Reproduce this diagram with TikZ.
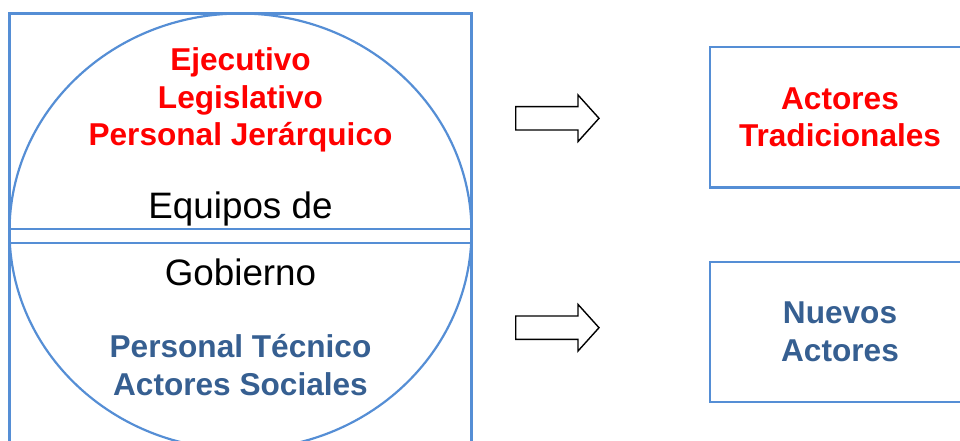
\documentclass[tikz,border=0pt]{standalone}
\usepackage{fontspec}
\setmainfont{Liberation Sans}
\definecolor{lineblue}{RGB}{85,142,213}
\definecolor{textblue}{RGB}{54,95,145}
\begin{document}
\begin{tikzpicture}[x=1pt,y=-1pt,
  frame/.style={draw=lineblue, line width=2.2pt},
  boldtext/.style={font=\bfseries\fontsize{31.6}{37.5}\selectfont, align=center, inner sep=0pt},
  plaintext/.style={font=\fontsize{36.8}{44}\selectfont, inner sep=0pt},
  actorbox/.style={frame, line width=2.4pt, boldtext, minimum width=260pt, minimum height=140pt},
  blockarrow/.style={draw=black, fill=white, line width=1.4pt, line join=miter}]
\useasboundingbox (0,0) rectangle (960,441);
\pgfmathsetmacro\shaft{11.7};
\pgfmathsetmacro\head{23.3};
\draw[frame] (9.5,13.5) rectangle (471.5,470);
\draw[frame] (240.5,231.5) ellipse [x radius=231, y radius=218];
\foreach \y in {229.3,242.7} \draw[frame] (9.5,\y) -- (471.5,\y);
\node[boldtext, text=red, anchor=base] (tradicional) at (240.5,145.7) {Ejecutivo\\Legislativo\\Personal Jerárquico};
\node[plaintext, anchor=base] (equipos) at (240.5,218) {Equipos de};
\node[plaintext, anchor=base] (gobierno) at (240.5,285) {Gobierno};
\node[boldtext, text=textblue, anchor=base] (nuevo) at (240.5,395) {Personal Técnico\\Actores Sociales};
\foreach \c in {118.3,327.7} \draw[blockarrow] (515.7,\c-\shaft) -- (578,\c-\shaft) -- (578,\c-\head) -- (599,\c) -- (578,\c+\head) -- (578,\c+\shaft) -- (515.7,\c+\shaft) -- cycle;
\node[actorbox, text=red] (tradbox) at (840,117.3) {Actores\\Tradicionales};
\node[actorbox, text=textblue] (nuevobox) at (840,331.7) {Nuevos\\Actores};
\end{tikzpicture}
\end{document}
